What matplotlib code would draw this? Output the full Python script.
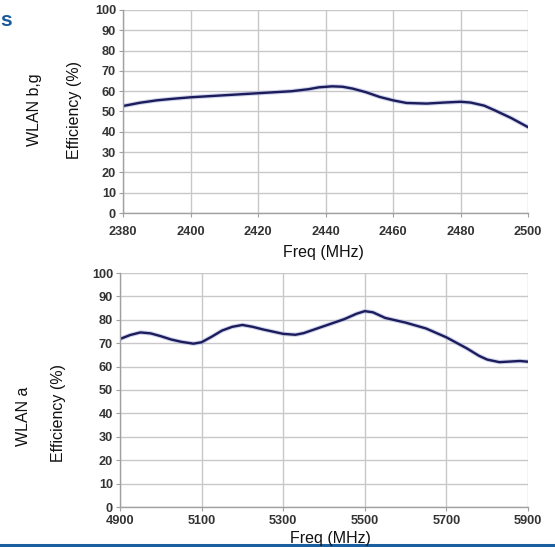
import numpy as np
import matplotlib
matplotlib.use('Agg')
import matplotlib.pyplot as plt

plt.rcParams['font.family'] = ['Liberation Sans', 'DejaVu Sans']

# WLAN b,g efficiency
bg_freq = [2380, 2385, 2390, 2395, 2400, 2410, 2420, 2430, 2435, 2438, 2442, 2445,
           2448, 2452, 2456, 2460, 2464, 2470, 2475, 2480, 2483, 2487, 2490, 2495, 2500]
bg_eff = [52.7, 54.3, 55.5, 56.3, 57.0, 58.0, 59.0, 60.0, 61.0, 61.9, 62.4, 62.2,
          61.3, 59.5, 57.2, 55.5, 54.2, 53.9, 54.4, 54.8, 54.4, 52.9, 50.7, 46.8, 42.3]

# WLAN a efficiency
a_freq = [4900, 4925, 4950, 4975, 5000, 5025, 5050, 5080, 5100, 5125, 5150, 5175,
          5200, 5225, 5250, 5300, 5330, 5350, 5400, 5450, 5480, 5500, 5520, 5550,
          5600, 5650, 5700, 5750, 5780, 5800, 5830, 5850, 5880, 5900]
a_eff = [71.8, 73.5, 74.6, 74.2, 73.0, 71.6, 70.6, 69.8, 70.4, 72.8, 75.4, 77.0,
         77.8, 77.0, 75.9, 74.0, 73.6, 74.3, 77.3, 80.3, 82.6, 83.7, 83.2, 80.8,
         78.8, 76.3, 72.5, 67.8, 64.6, 63.0, 61.9, 62.1, 62.4, 62.1]

bg_xticks = [2380, 2400, 2420, 2440, 2460, 2480, 2500]
a_xticks = [4900, 5100, 5300, 5500, 5700, 5900]
yticks = list(range(0, 101, 10))

W, H = 555, 547
fig = plt.figure(figsize=(W / 100, H / 100), dpi=100)


def fx(px):
    return px / W


def fy(py):
    return 1 - py / H


def setup(ax, xticks, xpad):
    ax.set_xlim(xticks[0], xticks[-1])
    ax.set_ylim(0, 100)
    ax.set_xticks(xticks)
    ax.set_yticks(yticks)
    ax.grid(True, color='#c8c8c8', linewidth=1.0)
    ax.set_axisbelow(True)
    for s in ['top', 'right']:
        ax.spines[s].set_visible(False)
    for s in ['left', 'bottom']:
        ax.spines[s].set_color('#a0a0a0')
        ax.spines[s].set_linewidth(1.0)
    ax.tick_params(length=3, width=0.8, color='#a0a0a0', labelsize=9.2,
                   labelcolor='#333333', pad=2)
    ax.tick_params(axis='x', pad=xpad)
    for lab in ax.get_xticklabels() + ax.get_yticklabels():
        lab.set_fontweight('bold')


# top chart
ax1 = fig.add_axes([fx(123), fy(213), fx(528 - 123), (213 - 10) / H])
setup(ax1, bg_xticks, 6.5)
ax1.plot(bg_freq, bg_eff, color='#9fa8d8', linewidth=3.2, alpha=0.5)
ax1.plot(bg_freq, bg_eff, color='#1c1c5c', linewidth=1.7)

# bottom chart
ax2 = fig.add_axes([fx(120), fy(507), fx(528 - 120), (507 - 273) / H])
setup(ax2, a_xticks, 2.5)
ax2.plot(a_freq, a_eff, color='#9fa8d8', linewidth=3.2, alpha=0.5)
ax2.plot(a_freq, a_eff, color='#1c1c5c', linewidth=1.7)

# axis titles placed as in the picture
lab = dict(fontsize=11.5, color='#111111', ha='center', va='center')
fig.text(fx(323), fy(252), 'Freq (MHz)', **lab)
fig.text(fx(75), fy(110), 'Efficiency (%)', rotation=90, **lab)
fig.text(fx(35), fy(110), 'WLAN b,g', rotation=90, **lab)
fig.text(fx(330), fy(538), 'Freq (MHz)', **lab)
fig.text(fx(59), fy(413), 'Efficiency (%)', rotation=90, **lab)
fig.text(fx(23), fy(416), 'WLAN a', rotation=90, **lab)

# heading letter and blue rule at the bottom
fig.text(fx(0), fy(21), 's', fontsize=15, fontweight='bold', color='#1a5a9c',
         ha='left', va='center')
fig.add_artist(plt.Line2D([0, 1], [fy(545), fy(545)], color='#1a5fa0',
                          linewidth=2.2, transform=fig.transFigure))

fig.savefig('out.png', dpi=100)
